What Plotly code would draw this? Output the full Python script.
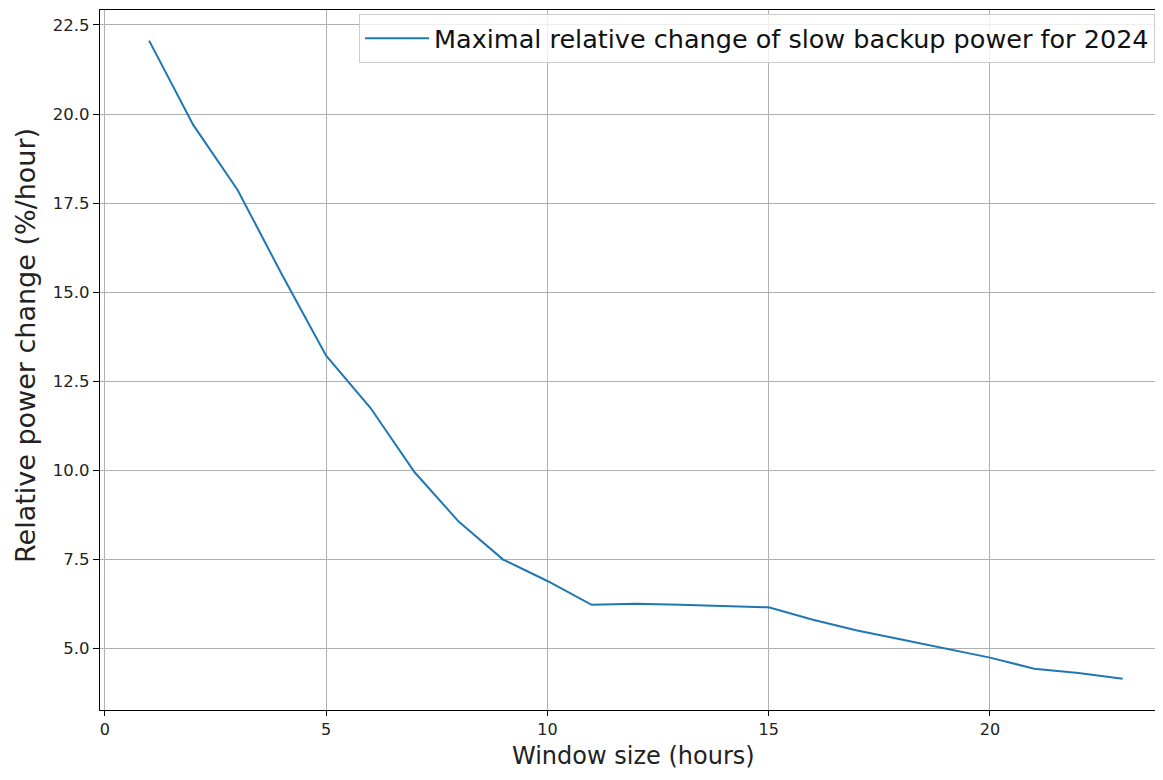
import plotly.graph_objects as go

window_hours = list(range(1, 24))
max_rel_change = [22.06, 19.69, 17.87, 15.50, 13.22, 11.76, 9.95, 8.56, 7.50, 6.90,
                  6.23, 6.26, 6.23, 6.19, 6.16, 5.81, 5.51, 5.26, 5.01, 4.75,
                  4.44, 4.32, 4.16]
series_name = "Maximal relative change of slow backup power for 2024"
x_title = "Window size (hours)"
y_title = "Relative power change (%/hour)"
x_ticks = [0, 5, 10, 15, 20]
y_ticks = [5.0, 7.5, 10.0, 12.5, 15.0, 17.5, 20.0, 22.5]

FONT = "DejaVu Sans"

fig = go.Figure()
fig.add_trace(go.Scatter(
    x=window_hours, y=max_rel_change, mode="lines", name=series_name,
    line=dict(color="#1f77b4", width=2),
))

fig.add_annotation(
    text=x_title, xref="paper", yref="paper", x=0.506, y=0,
    xanchor="center", yanchor="bottom", yshift=-62, showarrow=False,
    font=dict(family=FONT, size=24, color="#222222"),
)
fig.add_annotation(
    text=y_title, xref="paper", yref="paper", x=0, y=0.52,
    xanchor="center", yanchor="middle", xshift=-75, textangle=-90, showarrow=False,
    font=dict(family=FONT, size=27, color="#222222"),
)

fig.update_layout(
    width=1147, height=764,
    margin=dict(l=92, r=0, t=2, b=62),
    paper_bgcolor="white", plot_bgcolor="white",
    font=dict(family=FONT, color="black"),
    showlegend=True,
    legend=dict(
        x=1.0, y=0.994, xanchor="right", yanchor="top",
        bgcolor="rgba(255,255,255,0.8)", bordercolor="#cccccc", borderwidth=1,
        font=dict(family=FONT, size=25.5, color="#111111"),
        itemwidth=64,
    ),
    xaxis=dict(
        range=[-0.11, 23.73], tickvals=x_ticks, ticktext=[str(v) for v in x_ticks],
        showgrid=True, gridcolor="#b0b0b0", gridwidth=1, zeroline=False,
        showline=True, linecolor="black", linewidth=1.2, mirror=True,
        ticks="outside", ticklen=5, tickcolor="black", automargin=False,
        tickfont=dict(size=16, color="#222222"),
    ),
    yaxis=dict(
        range=[3.28, 22.92], tickvals=y_ticks, ticktext=[f"{v:.1f}" for v in y_ticks],
        showgrid=True, gridcolor="#b0b0b0", gridwidth=1, zeroline=False,
        showline=True, linecolor="black", linewidth=1.2, mirror=False,
        ticks="outside", ticklen=6, tickcolor="black", automargin=False,
        tickfont=dict(size=16.5, color="#222222"),
    ),
)

fig.write_html("out.html")
